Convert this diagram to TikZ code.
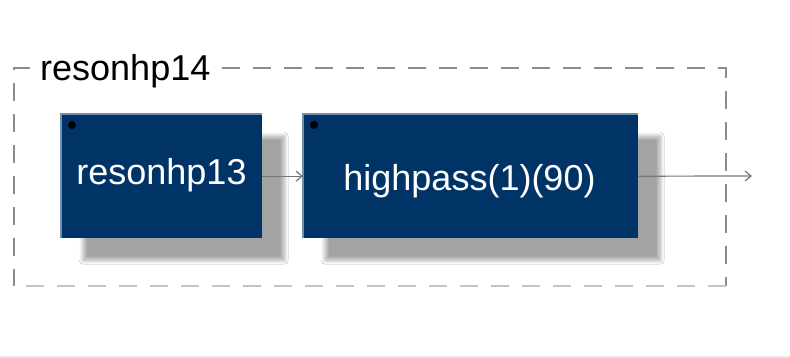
\documentclass[tikz,border=0pt]{standalone}
\usepackage{fontspec}
\setmainfont{Liberation Sans}
\usetikzlibrary{arrows.meta,shadows.blur}
\definecolor{boxfill}{HTML}{003366}
\definecolor{boxedge}{HTML}{7090B0}
\definecolor{dashdark}{HTML}{8C8C8C}
\definecolor{dashlight}{HTML}{C4C4C4}
\definecolor{conncol}{HTML}{777777}
\definecolor{bottomrule}{HTML}{E6E6E6}
\tikzset{
  blockbox/.style={fill=boxfill, draw=none, inner sep=0pt, anchor=north west,
    blur shadow={shadow xshift=22pt, shadow yshift=-22pt, shadow blur radius=4pt, shadow blur steps=10, shadow opacity=36}},
  blocktext/.style={text=white, font=\fontsize{36}{40}\selectfont, inner sep=0pt, anchor=base},
  grouptext/.style={text=black, font=\fontsize{36}{40}\selectfont, inner sep=0pt, anchor=base west},
  groupdash/.style={line width=2pt, dash pattern=on 18pt off 13pt},
  conn/.style={draw=conncol, line width=1.2pt, -{Straight Barb[length=6pt,width=10pt]}},
  pindot/.style={circle, fill=black, inner sep=0pt, minimum size=8pt},
}
\begin{document}
\begin{tikzpicture}[x=1pt,y=-1pt]
\useasboundingbox (0,0) rectangle (790,358);
\fill[white] (0,0) rectangle (790,358);
\fill[bottomrule] (0,355.5) rectangle (790,358);
% group frame
\draw[groupdash, draw=dashdark] (30,68) -- (14,68) -- (14,286);
\draw[groupdash, draw=dashdark] (222,68) -- (726,68) -- (726,286);
\draw[groupdash, draw=dashlight] (726,286) -- (14,286);
\node[grouptext] (glabel) at (40,81) {resonhp14};
% blocks
\node[blockbox, minimum width=201pt, minimum height=124pt] (b1) at (61,114) {};
\node[blockbox, minimum width=335pt, minimum height=124pt] (b2) at (303,114) {};
\draw[boxedge, line width=1.5pt] (b1.south west) -- (b1.north west) -- (b1.north east);
\draw[boxedge, line width=1.5pt] (b2.south west) -- (b2.north west) -- (b2.north east);
\node[pindot] (d1) at (72,125) {};
\node[pindot] (d2) at (314,125) {};
\node[blocktext] (t1) at (161.5,185) {resonhp13};
\node[blocktext] (t2) at (469.5,190.5) {highpass(1)(90)};
% connectors
\coordinate (out) at (752,176);
\draw[conn] (b1.east) -- (b2.west);
\draw[conn] (b2.east) -- (out);
\end{tikzpicture}
\end{document}
